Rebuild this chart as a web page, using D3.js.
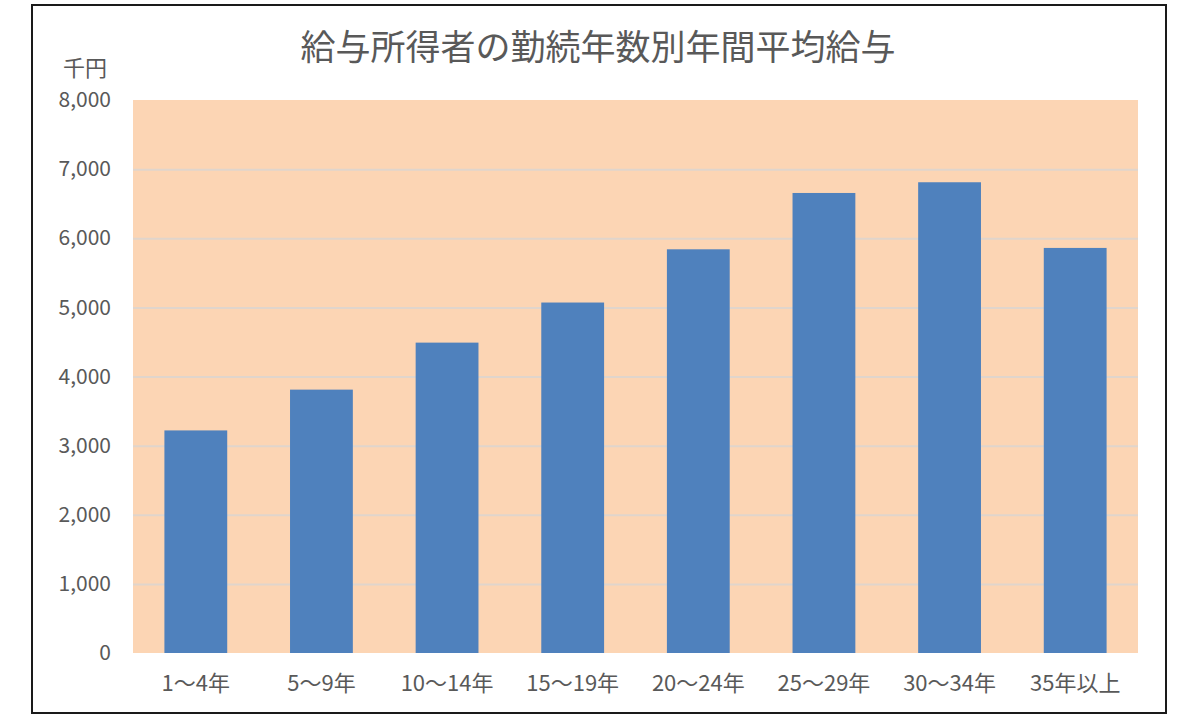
<!DOCTYPE html>
<html><head><meta charset="utf-8">
<script src="https://cdn.jsdelivr.net/npm/d3@7"></script>
<style>
html,body{margin:0;padding:0;background:#fff;}
svg{display:block;}
text{font-family:"Noto Sans CJK JP","Noto Sans",sans-serif;fill:#595959;}
</style></head>
<body>
<svg id="chart" width="1200" height="720"></svg>
<script>
const title = "給与所得者の勤続年数別年間平均給与";
const unitLabel = "千円";
const categories = ["1〜4年","5〜9年","10〜14年","15〜19年","20〜24年","25〜29年","30〜34年","35年以上"];
const values = [3220, 3810, 4490, 5070, 5840, 6655, 6810, 5860];
const yTicks = [0,1000,2000,3000,4000,5000,6000,7000,8000];

const svg = d3.select("#chart");
const plot = {left:133, right:1138, top:100, bottom:653};

svg.append("rect").attr("x",32).attr("y",5).attr("width",1134).attr("height",708)
  .attr("fill","#fff").attr("stroke","#1a1a1a").attr("stroke-width",2);

const x = d3.scaleBand().domain(categories).range([plot.left, plot.right]).paddingInner(0.5).paddingOuter(0.25);
const y = d3.scaleLinear().domain([0,8000]).range([plot.bottom, plot.top]);

svg.append("rect").attr("x",plot.left).attr("y",plot.top)
  .attr("width",plot.right-plot.left).attr("height",plot.bottom-plot.top)
  .attr("fill","#FCD5B4");

const yAxis = d3.axisLeft(y).tickValues(yTicks).tickSize(-(plot.right-plot.left)).tickPadding(22)
  .tickFormat(d3.format(","));
const gy = svg.append("g").attr("transform",`translate(${plot.left},0)`).call(yAxis);
gy.select(".domain").remove();
gy.selectAll(".tick line").attr("stroke","#e0d5cc").attr("stroke-width",2)
  .filter(d=>d===0||d===8000).remove();
gy.selectAll(".tick text").attr("font-size",21).attr("fill","#5f5f5f")
  .style("font-family","'Noto Sans CJK JP',sans-serif");

svg.append("g").selectAll("rect").data(values).join("rect")
  .attr("x",(d,i)=>x(categories[i]))
  .attr("y",d=>y(d))
  .attr("width",x.bandwidth())
  .attr("height",d=>y(0)-y(d))
  .attr("fill","#4F81BD");

const xAxis = d3.axisBottom(x).tickSize(0).tickPadding(22);
const gx = svg.append("g").attr("transform",`translate(0,${plot.bottom})`).call(xAxis);
gx.select(".domain").remove();
gx.selectAll(".tick text").attr("font-size",22).attr("fill","#5f5f5f")
  .style("font-family","'Noto Sans CJK JP',sans-serif");

svg.append("text").attr("x",598).attr("y",60).attr("text-anchor","middle")
  .attr("font-size",35).attr("fill","#5f5f5f").text(title);
svg.append("text").attr("x",85).attr("y",76).attr("text-anchor","middle")
  .attr("font-size",22).attr("fill","#5f5f5f").text(unitLabel);
</script>
</body></html>
